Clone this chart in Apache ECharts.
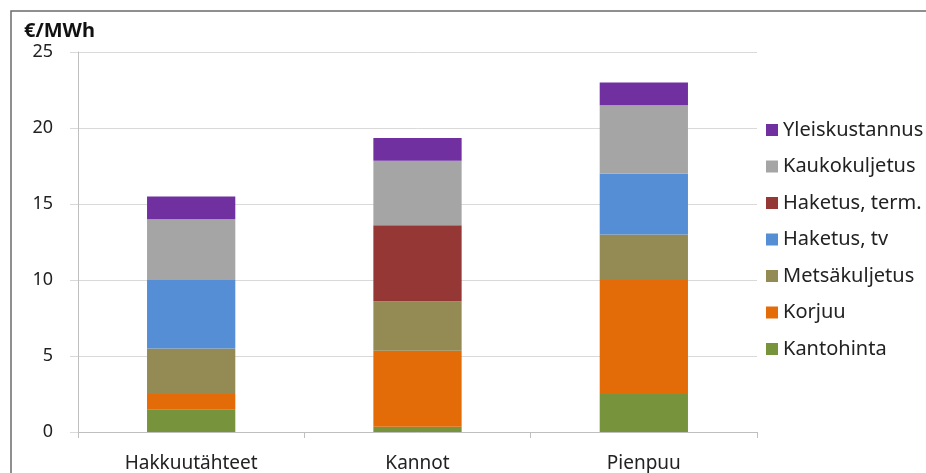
<!DOCTYPE html>
<html>
<head>
<meta charset="utf-8">
<script src="https://cdn.jsdelivr.net/npm/echarts@6/dist/echarts.min.js"></script>
<style>
  html, body { margin: 0; padding: 0; background: #fff; }
  #chart { width: 926px; height: 473px; }
</style>
</head>
<body>
<div id="chart"></div>
<script>
// Cost breakdown of forest chips, €/MWh
const categories = ['Hakkuutähteet', 'Kannot', 'Pienpuu'];
const kantohinta     = [1.5, 0.35, 2.5];
const korjuu         = [1.0, 5.0, 7.5];
const metsakuljetus  = [3.0, 3.25, 3.0];
const haketusTv      = [4.5, 0, 4.0];
const haketusTerm    = [0, 5.0, 0];
const kaukokuljetus  = [4.0, 4.25, 4.5];
const yleiskustannus = [1.5, 1.5, 1.5];
const yTicks = [0, 5, 10, 15, 20, 25];

const seriesDefs = [
  ['Kantohinta', kantohinta, '#77933C'],
  ['Korjuu', korjuu, '#E36C09'],
  ['Metsäkuljetus', metsakuljetus, '#948A54'],
  ['Haketus, tv', haketusTv, '#558ED5'],
  ['Haketus, term.', haketusTerm, '#953735'],
  ['Kaukokuljetus', kaukokuljetus, '#A5A5A5'],
  ['Yleiskustannus', yleiskustannus, '#7030A0']
];

const font = '"Noto Sans", "Open Sans", sans-serif';
const chart = echarts.init(document.getElementById('chart'));
chart.setOption({
  animation: false,
  backgroundColor: '#fff',
  textStyle: { fontFamily: font },
  title: {
    text: '€/MWh',
    left: 19, top: 16,
    textStyle: { fontFamily: font, fontSize: 20, fontWeight: 'bold', color: '#111' }
  },
  graphic: [{
    type: 'polyline',
    shape: { points: [[11, 480], [11, 11], [940, 11]] },
    style: { stroke: '#6b6b6b', lineWidth: 1.5, fill: null }
  }],
  legend: {
    orient: 'vertical',
    left: 761, top: 114,
    icon: 'rect',
    itemWidth: 12, itemHeight: 12,
    itemGap: 14.5,
    data: seriesDefs.map(s => s[0]).reverse(),
    textStyle: { fontFamily: font, fontSize: 20, color: '#222', lineHeight: 22 }
  },
  grid: { left: 78, right: 169, top: 52, bottom: 41 },
  xAxis: {
    type: 'category',
    data: categories,
    axisLine: { lineStyle: { color: '#BFBFBF', width: 1 } },
    axisTick: { show: true, length: 6, lineStyle: { color: '#BFBFBF' } },
    axisLabel: { fontFamily: font, fontSize: 19, color: '#222', margin: 22 }
  },
  yAxis: {
    type: 'value',
    min: yTicks[0], max: yTicks[yTicks.length - 1], interval: 5,
    axisLine: { show: true, lineStyle: { color: '#BFBFBF' } },
    axisTick: { show: true, length: 8, lineStyle: { color: '#D9D9D9' } },
    splitLine: { lineStyle: { color: '#D9D9D9' } },
    axisLabel: { fontFamily: font, fontSize: 18, color: '#222', margin: 25 }
  },
  series: seriesDefs.map(([name, values, color]) => ({
    name, type: 'bar', stack: 'cost',
    data: values,
    barWidth: '39%',
    itemStyle: { color }
  }))
});
</script>
</body>
</html>
